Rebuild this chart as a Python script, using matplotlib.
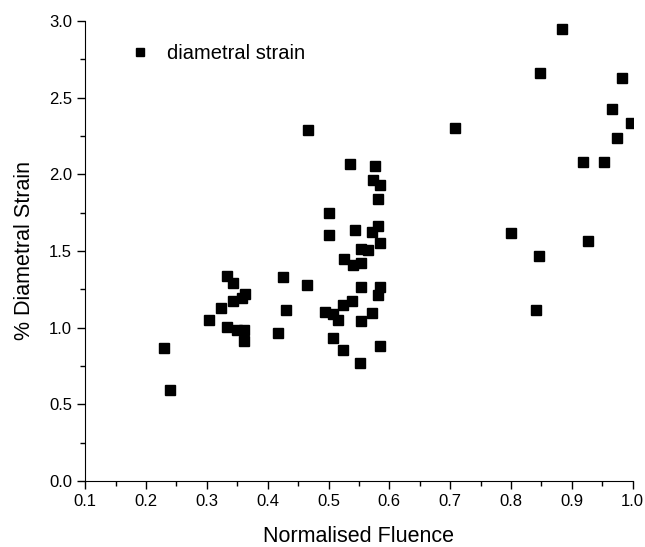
import matplotlib.pyplot as plt
from matplotlib.ticker import MultipleLocator

plt.rcParams['font.family'] = ['Liberation Sans', 'DejaVu Sans']

# normalised fluence vs % diametral strain
fluence = [0.229, 0.240, 0.303, 0.324, 0.333, 0.333, 0.343, 0.343, 0.350, 0.361,
           0.361, 0.357, 0.363, 0.417, 0.426, 0.430, 0.465, 0.466, 0.495, 0.500,
           0.500, 0.507, 0.507, 0.516, 0.523, 0.526, 0.523, 0.535, 0.538, 0.540,
           0.544, 0.551, 0.553, 0.554, 0.554, 0.554, 0.565, 0.571, 0.572, 0.573,
           0.576, 0.581, 0.584, 0.582, 0.585, 0.582, 0.585, 0.584, 0.708, 0.800,
           0.841, 0.846, 0.847, 0.883, 0.919, 0.926, 0.952, 0.966, 0.974, 0.982,
           0.997]
strain = [0.866, 0.593, 1.053, 1.126, 1.003, 1.338, 1.290, 1.174, 0.985, 0.985,
          0.916, 1.194, 1.217, 0.964, 1.329, 1.115, 1.281, 2.289, 1.103, 1.746,
          1.605, 0.930, 1.090, 1.053, 0.855, 1.450, 1.149, 2.065, 1.174, 1.411,
          1.639, 0.768, 1.042, 1.267, 1.514, 1.422, 1.505, 1.094, 1.621, 1.963,
          2.052, 1.840, 1.929, 1.660, 1.552, 1.210, 1.263, 0.882, 2.300, 1.616,
          1.115, 1.466, 2.660, 2.945, 2.079, 1.566, 2.079, 2.423, 2.234, 2.628,
          2.332]

fig = plt.figure(figsize=(6.45, 5.47), dpi=100)
ax = fig.add_axes([0.132, 0.1207, 0.849, 0.8409])

ax.plot(fluence, strain, linestyle='none', marker='s', markersize=7,
        color='black', label='diametral strain')

ax.set_xlim(0.1, 1.0)
ax.set_ylim(0.0, 3.0)
ax.xaxis.set_major_locator(MultipleLocator(0.1))
ax.xaxis.set_minor_locator(MultipleLocator(0.05))
ax.yaxis.set_major_locator(MultipleLocator(0.5))
ax.yaxis.set_minor_locator(MultipleLocator(0.25))
ax.tick_params(which='both', direction='out', labelsize=12, width=1)
ax.tick_params(which='major', length=6)
ax.tick_params(which='minor', length=3.5)
ax.spines['top'].set_visible(False)
ax.spines['right'].set_visible(False)

ax.set_xlabel('Normalised Fluence', fontsize=15.5, labelpad=12)
ax.set_ylabel('% Diametral Strain', fontsize=15.5, labelpad=10)

ax.legend(loc='upper left', bbox_to_anchor=(0.03, 0.99), frameon=False,
          fontsize=14.5, handletextpad=0.35, numpoints=1, markerscale=0.75)

fig.savefig('out.png', dpi=100)
